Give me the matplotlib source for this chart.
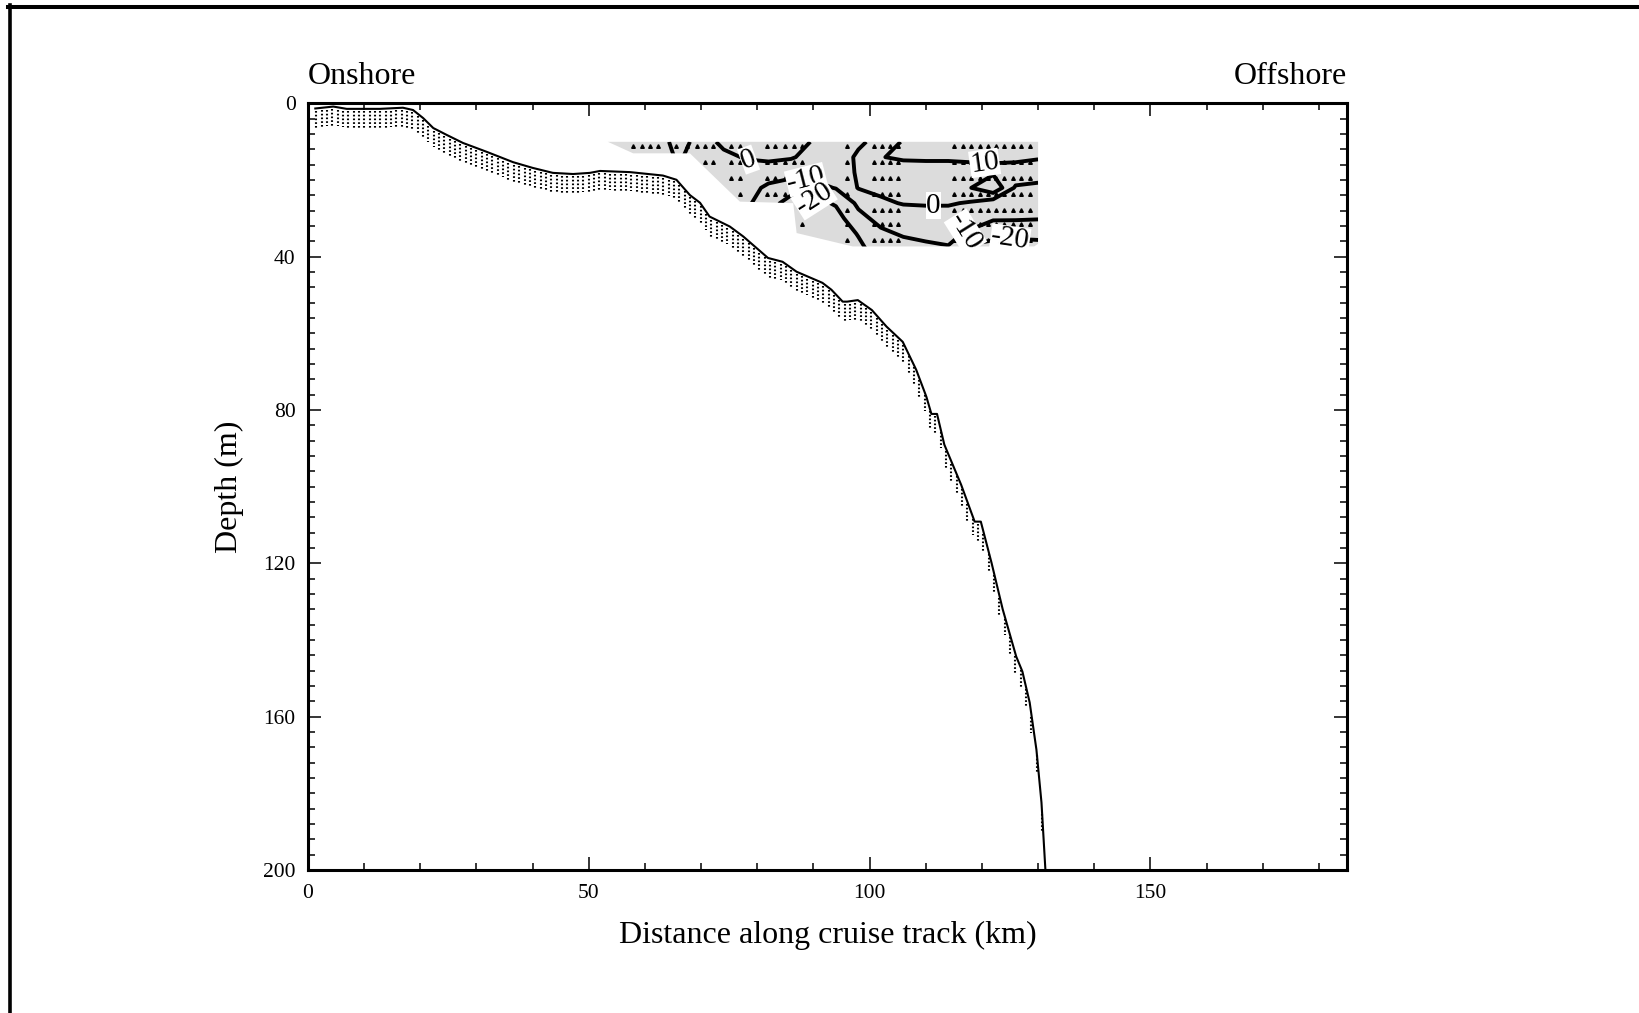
import numpy as np
import matplotlib
matplotlib.use("Agg")
import matplotlib.pyplot as plt
from matplotlib.patches import Polygon
from matplotlib.path import Path
from matplotlib.lines import Line2D
from matplotlib.ticker import MultipleLocator

plt.rcParams['font.family'] = ['Liberation Serif', 'DejaVu Serif']

# ---- bathymetry along the section (distance km, depth m) ----
bathy_km = [1.3, 4.5, 6.9, 12.8, 16.9, 18.7, 20.5, 22.3, 24.7, 27.6, 31.8, 36.5,
            40.0, 43.6, 47.2, 50.2, 52.0, 57.3, 63.2, 65.6, 68.0, 69.8, 71.5,
            75.1, 77.5, 81.9, 84.5, 87.0, 91.6, 93.2, 95.2, 96.0, 97.9, 100.4,
            103.0, 105.9, 108.3, 110.1, 111.0, 112.0, 113.3, 116.3, 118.7,
            119.8, 121.7, 123.7, 126.1, 127.2, 128.5, 129.7, 130.6, 131.3]
bathy_m = [1.3, 0.8, 1.4, 1.4, 1.1, 1.7, 3.8, 6.4, 8.2, 10.3, 12.6, 15.3,
           16.8, 18.1, 18.4, 18.1, 17.6, 17.9, 18.8, 19.9, 23.9, 25.9, 29.5,
           32.1, 34.7, 40.3, 41.3, 43.9, 46.8, 48.6, 51.7, 51.7, 51.3, 53.9,
           58.2, 62.2, 69.5, 76.5, 81.0, 81.0, 89.0, 99.5, 109.1,
           109.1, 119.8, 132.0, 144.3, 148.2, 156.3, 168.6, 182.4, 200.0]

# ---- outline of the sampled area (km, m) ----
cover_km = [53.4, 130.0, 130.0, 129.3, 97.0, 87.0, 86.4, 76.9, 68.0, 57.9]
cover_m = [10.0, 10.0, 36.6, 37.3, 37.3, 33.8, 26.0, 25.6, 13.0, 13.0]

# ---- sampling stations and bin depths ----
station_km = [57.9, 59.4, 60.9, 62.3, 65.6, 67.4, 69.2, 70.7, 72.2, 75.4, 76.9,
              81.7, 83.1, 85.0, 86.5, 88.0, 95.9, 100.7, 102.2, 103.7, 105.1,
              115.1, 116.6, 118.1, 119.6, 121.0, 122.5, 124.0, 125.5, 127.0,
              128.5]
bin_m = [11.0, 15.3, 19.5, 23.5, 27.7, 31.5, 35.5]

# ---- gridded field (rows: depth, columns: distance) ----
field_km = [54, 58, 62, 66, 70, 74, 78, 82, 86, 90, 94, 98, 102, 106, 110, 114,
            118, 122, 126, 130]
field_m = [10, 14, 18, 22, 26, 30, 34, 38]
field = [
    [-6, -7, -4, 3, -3, 1.5, 4, 5, 3, -0.5, -4, -1.5, 2.8, 11, 12, 12, 12, 12, 12, 12],
    [-6, -7, -4, 1, -4, -1.5, 0.5, 2, 0.8, -3, -5, 1.5, 9.8, 10.8, 11, 11, 11, 11, 11, 11],
    [-6, -7, -5, -3, -5, -4, -3, -5, -6, -7, -7, 1.5, 6, 7, 7, 7, 8, 8.5, 8, 4],
    [-6, -7, -5, -5, -6, -6, -6, -12, -16, -13, -9.5, 0.5, 2, 3, 3, 4, 9.8, 18, -1.5, -2],
    [-6, -7, -6, -6, -7, -7, -8, -16, -24, -23, -19, -8, -1.5, 0.5, 1, 1, -1, -6, -6, -6],
    [-6, -7, -6, -6, -7, -8, -9, -18, -28, -28, -24, -13, -7, -5, -5, -5, -5, -9, -9, -9.5],
    [-6, -7, -6, -6, -7, -8, -9, -18, -28, -28, -25, -19.5, -12, -9, -8, -7, -12, -17, -18, -18],
    [-6, -7, -6, -6, -7, -8, -9, -18, -27, -27, -24, -22, -16, -14, -12, -11, -24, -24, -24, -23],
]
levels = [-20, -10, 0, 10]

x_ticks = [0, 50, 100, 150]
y_ticks = [0, 40, 80, 120, 160, 200]

W, H = 1639, 1013
fig = plt.figure(figsize=(W / 100, H / 100), dpi=100)
ax = fig.add_axes([308 / W, 1 - 870 / H, (1347 - 308) / W, (870 - 103.5) / H])

# sampled area
cover = Polygon(np.column_stack([cover_km, cover_m]), closed=True,
                facecolor='#dcdcdc', edgecolor='none', zorder=1)
ax.add_patch(cover)

# station markers inside the sampled area
sx, sy = np.meshgrid(station_km, bin_m)
pts = np.column_stack([sx.ravel(), sy.ravel()])
inside = Path(np.column_stack([cover_km, cover_m])).contains_points(pts)
ax.plot(pts[inside, 0], pts[inside, 1], linestyle='none', marker='^',
        markersize=2.6, color='black', zorder=2)

# contours
cs = ax.contour(field_km, field_m, np.array(field), levels=levels,
                colors='black', linewidths=2.8, linestyles='solid', zorder=3)
cs.set_clip_path(cover)
label_pos = [(78.4, 14.7), (88.7, 19.9), (91.1, 24.3), (111.3, 27.3),
             (120.5, 15.4), (117.0, 33.5), (125.0, 35.4)]
labels = ax.clabel(cs, fmt='%d', fontsize=21, inline=True, inline_spacing=4,
                   manual=label_pos)
for t in labels:
    t.set_bbox(dict(facecolor='white', edgecolor='none', pad=0.3))
    t.set_zorder(5)

# bottom stipple below the sea floor
st_km = np.arange(1.5, 131.0, 0.95)
st_top = np.interp(st_km, bathy_km, bathy_m)
ax.vlines(st_km, st_top + 0.6, st_top + 5.0, colors='black',
          linestyles=(0, (0.8, 1.0)), linewidth=1.5, zorder=2)
ax.plot(bathy_km, bathy_m, color='black', linewidth=1.5, zorder=4)

ax.set_xlim(0, 185)
ax.set_ylim(200, 0)
ax.set_xticks(x_ticks)
ax.set_yticks(y_ticks)
ax.xaxis.set_minor_locator(MultipleLocator(10))
ax.yaxis.set_minor_locator(MultipleLocator(4))
ax.tick_params(which='both', direction='in', top=True, right=True,
               labelsize=15.5, width=1.1)
ax.tick_params(which='major', length=9.5)
ax.tick_params(which='minor', length=4.8)
ax.tick_params(axis='x', which='major', pad=10)
ax.tick_params(axis='y', which='major', pad=9)
for s in ax.spines.values():
    s.set_linewidth(2.2)

ax.set_xlabel('Distance along cruise track (km)', fontsize=23, labelpad=13)
ax.set_ylabel('Depth (m)', fontsize=23, labelpad=14)
ax.annotate('Onshore', xy=(0, 1), xycoords='axes fraction', xytext=(0, 14),
            textcoords='offset points', ha='left', va='baseline', fontsize=23)
ax.annotate('Offshore', xy=(1, 1), xycoords='axes fraction', xytext=(0, 14),
            textcoords='offset points', ha='right', va='baseline', fontsize=23)

# outer frame lines (top and left)
fig.add_artist(Line2D([8 / W, 1], [1 - 7 / H, 1 - 7 / H], color='black',
                      linewidth=2.9, transform=fig.transFigure))
fig.add_artist(Line2D([10 / W, 10 / W], [0, 1 - 5 / H], color='black',
                      linewidth=2.6, transform=fig.transFigure))

fig.savefig('out.png', dpi=100)
